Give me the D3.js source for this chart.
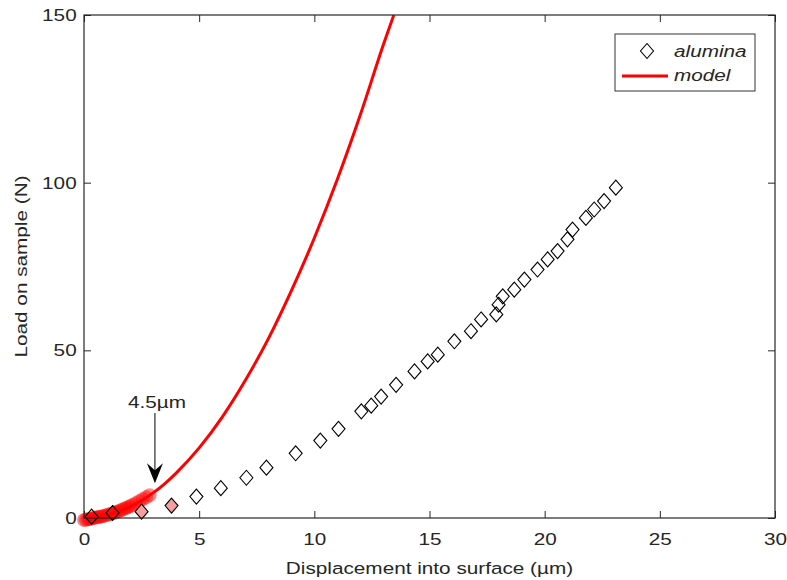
<!DOCTYPE html>
<html>
<head>
<meta charset="utf-8">
<script src="https://cdn.jsdelivr.net/npm/d3@7"></script>
<style>
  body { margin: 0; background: #fff; }
  text { font-family: "Liberation Sans", Arial, sans-serif; fill: #262626; }
</style>
</head>
<body>
<svg width="787" height="580"></svg>
<script>
// ---- data ----
// alumina measurements (displacement um, load N)
const aluH = [0.33, 1.24, 2.5, 3.8, 4.88, 5.94, 7.05, 7.92, 9.19, 10.26, 11.05, 12.04, 12.47, 12.9, 13.55,
              14.35, 14.92, 15.36, 16.08, 16.8, 17.24, 17.9, 18.0, 18.18, 18.68, 19.12, 19.69, 20.13, 20.56,
              20.99, 21.21, 21.79, 22.15, 22.58, 23.09];
const aluP = [0.4, 1.5, 1.9, 3.7, 6.4, 8.9, 12.0, 15.0, 19.3, 23.1, 26.6, 31.8, 33.5, 36.2, 39.7,
              43.7, 46.7, 48.7, 52.7, 55.7, 59.2, 60.7, 63.6, 66.1, 68.1, 71.1, 74.1, 77.1, 79.6,
              83.1, 86.0, 89.5, 92.0, 94.5, 98.5];
// highlighted (pink filled) alumina points
const aluPink = [2.5, 3.8];

// model curve
const modelH = [0, 0.5, 1, 1.5, 2, 2.5, 3, 3.5, 4, 5, 6, 7, 8, 9, 10, 11, 12, 13, 13.45];
const modelP = [0, 0.2, 0.8, 1.9, 3.3, 5.2, 7.5, 10.2, 13.4, 20.9, 30.1, 41, 53.4, 67.7, 83.5, 101, 120.3, 141.2, 150];

// translucent red cluster near the origin
const blobH = [0.0, 0.08, 0.16, 0.24, 0.32, 0.4, 0.48, 0.56, 0.64, 0.72, 0.8, 0.9, 1.0, 1.1, 1.2, 1.3,
               1.4, 1.5, 1.6, 1.7, 1.8, 1.9, 2.0, 2.1, 2.25, 2.4, 2.55, 2.7, 2.85];
const blobP = [-0.6, -0.5, -0.4, -0.3, -0.2, 0.0, 0.1, 0.2, 0.3, 0.4, 0.5, 0.7, 0.9, 1.1, 1.3, 1.5,
               1.8, 2.0, 2.3, 2.6, 2.9, 3.2, 3.5, 3.9, 4.4, 5.0, 5.6, 6.2, 6.8];

// annotation
const noteText = "4.5\u00b5m";
const noteH = 3.08;
const noteTextP = 32.8;
const noteStartP = 31.3;
const noteTipP = 10.4;

const xTicks = [0, 5, 10, 15, 20, 25, 30];
const yTicks = [0, 50, 100, 150];

// ---- layout ----
const svg = d3.select("svg");
const mLeft = 84, mRight = 775, mTop = 15, mBottom = 518;
const SX = 1.22;   // text in the picture is wider than tall
const axisColor = "#262626";

const x = d3.scaleLinear().domain([0, 30]).range([mLeft, mRight]);
const y = d3.scaleLinear().domain([0, 150]).range([mBottom, mTop]);

svg.append("clipPath").attr("id", "plotclip")
  .append("rect").attr("x", mLeft).attr("y", mTop)
  .attr("width", mRight - mLeft).attr("height", mBottom - mTop);

// ---- axes (ticks inward on all 4 sides) ----
const xAxis = svg.append("g")
  .attr("transform", "translate(0," + mBottom + ")")
  .call(d3.axisBottom(x).tickValues(xTicks).tickSizeInner(-7).tickSizeOuter(0).tickPadding(15));
const xAxisTop = svg.append("g")
  .attr("transform", "translate(0," + mTop + ")")
  .call(d3.axisTop(x).tickValues(xTicks).tickSizeInner(-7).tickSizeOuter(0).tickFormat(""));
const yAxis = svg.append("g")
  .attr("transform", "translate(" + mLeft + ",0)")
  .call(d3.axisLeft(y).tickValues(yTicks).tickSizeInner(-7).tickSizeOuter(0).tickPadding(6));
const yAxisRight = svg.append("g")
  .attr("transform", "translate(" + mRight + ",0)")
  .call(d3.axisRight(y).tickValues(yTicks).tickSizeInner(-7).tickSizeOuter(0).tickFormat(""));

[xAxis, xAxisTop, yAxis, yAxisRight].forEach(g => {
  g.select(".domain").remove();
  g.selectAll("line").attr("stroke", axisColor);
  g.selectAll("text")
    .attr("font-family", "Liberation Sans, Arial, sans-serif")
    .attr("font-size", 17)
    .attr("fill", axisColor)
    .attr("transform", "scale(" + SX + ",1)");
});

// ---- red cluster ----
svg.selectAll("circle.blob")
  .data(blobH.map((h, i) => ({h: h, p: blobP[i]})))
  .enter().append("circle")
  .attr("class", "blob")
  .attr("cx", d => x(d.h))
  .attr("cy", d => y(d.p))
  .attr("r", 7)
  .attr("fill", "#ff0000")
  .attr("fill-opacity", 0.45);

// ---- model curve ----
const line = d3.line()
  .x(d => x(d.h))
  .y(d => y(d.p))
  .curve(d3.curveMonotoneX);

svg.append("path")
  .datum(modelH.map((h, i) => ({h: h, p: modelP[i]})))
  .attr("clip-path", "url(#plotclip)")
  .attr("fill", "none")
  .attr("stroke", "#ff0000")
  .attr("stroke-width", 3)
  .attr("d", line);

// ---- alumina diamonds ----
const dw = 6.5, dh = 7.5;
const diamond = "M0," + (-dh) + "L" + dw + ",0L0," + dh + "L" + (-dw) + ",0Z";
svg.selectAll("path.alu")
  .data(aluH.map((h, i) => ({h: h, p: aluP[i]})))
  .enter().append("path")
  .attr("class", "alu")
  .attr("d", diamond)
  .attr("transform", d => "translate(" + x(d.h) + "," + y(d.p) + ")")
  .attr("fill", d => aluPink.includes(d.h) ? "#f5a0a0" : "none")
  .attr("stroke", "#000")
  .attr("stroke-width", 1.1);

// ---- box ----
svg.append("rect")
  .attr("x", mLeft).attr("y", mTop)
  .attr("width", mRight - mLeft).attr("height", mBottom - mTop)
  .attr("fill", "none").attr("stroke", axisColor).attr("stroke-width", 1.2);

// ---- annotation arrow ----
const ax = x(noteH), tipY = y(noteTipP);
svg.append("text")
  .attr("transform", "translate(" + (ax + 2) + "," + y(noteTextP) + ") scale(" + SX + ",1)")
  .attr("text-anchor", "middle")
  .attr("font-size", 17)
  .attr("fill", "#000")
  .text(noteText);
svg.append("line")
  .attr("x1", ax).attr("x2", ax)
  .attr("y1", y(noteStartP)).attr("y2", tipY - 12)
  .attr("stroke", "#000").attr("stroke-width", 1);
svg.append("path")
  .attr("d", "M" + ax + "," + tipY + "L" + (ax - 8) + "," + (tipY - 20) +
             "L" + ax + "," + (tipY - 13) + "L" + (ax + 8) + "," + (tipY - 20) + "Z")
  .attr("fill", "#000");

// ---- axis labels ----
svg.append("text")
  .attr("transform", "translate(" + ((mLeft + mRight) / 2) + ",574) scale(" + SX + ",1)")
  .attr("text-anchor", "middle")
  .attr("font-size", 17)
  .text("Displacement into surface (\u00b5m)");
svg.append("text")
  .attr("transform", "translate(27," + ((mTop + mBottom) / 2) + ") rotate(-90) scale(" + SX + ",1)")
  .attr("text-anchor", "middle")
  .attr("font-size", 17)
  .text("Load on sample (N)");

// ---- legend ----
const lg = svg.append("g");
lg.append("rect")
  .attr("x", 615).attr("y", 34).attr("width", 140).attr("height", 57)
  .attr("fill", "#fff").attr("stroke", "#333").attr("stroke-width", 1);
lg.append("path")
  .attr("d", diamond)
  .attr("transform", "translate(647,51)")
  .attr("fill", "none").attr("stroke", "#000").attr("stroke-width", 1.1);
lg.append("line")
  .attr("x1", 622).attr("x2", 668).attr("y1", 76).attr("y2", 76)
  .attr("stroke", "#ff0000").attr("stroke-width", 3);
lg.append("text")
  .attr("transform", "translate(674,57) scale(" + SX + ",1)")
  .attr("font-size", 17).attr("font-style", "italic").attr("fill", "#000")
  .text("alumina");
lg.append("text")
  .attr("transform", "translate(674,81) scale(" + SX + ",1)")
  .attr("font-size", 17).attr("font-style", "italic").attr("fill", "#000")
  .text("model");
</script>
</body>
</html>
